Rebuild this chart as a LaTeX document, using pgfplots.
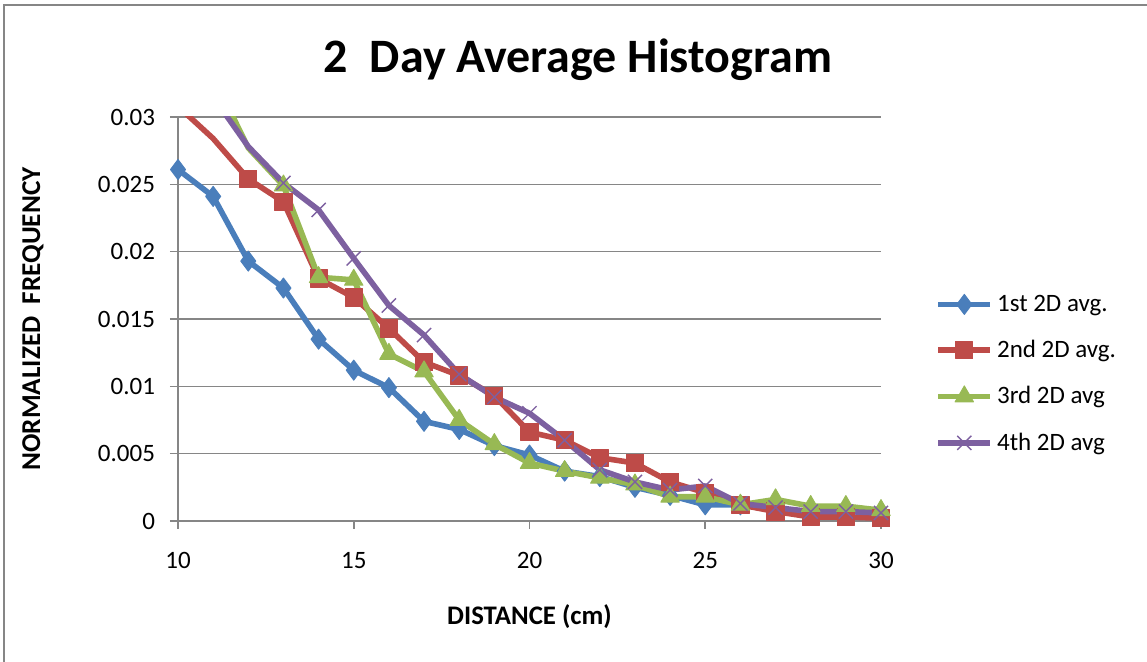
\documentclass[border=0pt]{standalone}
\usepackage{pgfplots}
\pgfplotsset{compat=1.18}
\usepackage{fontspec}
\setmainfont{Carlito}
\definecolor{cblue}{HTML}{4A7EBB}
\definecolor{cred}{HTML}{BE4B48}
\definecolor{cgreen}{HTML}{98B954}
\definecolor{cpurple}{HTML}{7D60A0}
\definecolor{cgrid}{HTML}{868686}
\begin{document}
\begin{tikzpicture}
\path[use as bounding box] (0pt,0pt) rectangle (573.5pt,331pt);
\draw[cgrid, line width=0.8pt] (2pt,0pt) -- (2pt,328.5pt) -- (573.5pt,328.5pt);
\node[font=\fontsize{24}{28}\selectfont\bfseries] at (289pt,301pt) {2\ \ Day Average Histogram};
\begin{axis}[
  at={(89pt,70.5pt)}, anchor=south west,
  scale only axis, width=351.5pt, height=202pt,
  xmin=10, xmax=30, ymin=0, ymax=0.03,
  xtick={10,15,20,25,30},
  ytick={0,0.005,0.01,0.015,0.02,0.025,0.03},
  yticklabels={0,0.005,0.01,0.015,0.02,0.025,0.03},
  scaled y ticks=false,
  /pgf/number format/assume math mode=true,
  axis lines=left,
  axis line style={-, draw=cgrid, line width=0.8pt},
  ymajorgrids,
  grid style={draw=cgrid, line width=0.8pt},
  tick align=outside,
  major tick length=4pt,
  tick style={draw=cgrid, line width=0.8pt},
  ticklabel style={font=\fontsize{12.5}{14}\selectfont},
  xticklabel style={yshift=-8pt},
  yticklabel style={xshift=-4pt},
  xlabel={DISTANCE (cm)},
  ylabel={NORMALIZED\ \ FREQUENCY},
  every axis x label/.style={at={(axis description cs:0.5,-0.2376)}, anchor=center, font=\fontsize{13.4}{15}\selectfont\bfseries},
  every axis y label/.style={at={(axis description cs:-0.2063,0.5)}, rotate=90, anchor=center, font=\fontsize{13.6}{15}\selectfont\bfseries},
  legend style={at={(rel axis cs:1.077,0.364)}, anchor=west, draw=none, fill=none,
    font=\fontsize{12.5}{14}\selectfont, row sep=9pt, inner sep=0pt,
    /tikz/every even column/.append style={column sep=2pt}},
  legend cell align=left,
  legend image code/.code={\draw[mark indices={2}] plot coordinates {(0pt,0pt) (13pt,0pt) (26pt,0pt)};},
  every axis plot/.append style={line width=2.8pt, line join=round},
]
\addplot[cblue, mark=diamond*, mark size=5pt, mark options={fill=cblue, draw=cblue, line width=0.5pt}] coordinates {
(10,0.0261) (11,0.0241) (12,0.0193) (13,0.0173) (14,0.0135) (15,0.0112) (16,0.0099) (17,0.0074) (18,0.0068) (19,0.0056) (20,0.0049) (21,0.0037) (22,0.0033) (23,0.0025) (24,0.0019) (25,0.0012) (26,0.0012) (27,0.0008) (28,0.0007) (29,0.0007) (30,0.0007)};
\addlegendentry{1st 2D avg.}
\addplot[cred, mark=square*, mark size=4.3pt, mark indices={2,...,21}, mark options={fill=cred, draw=cred, line width=0.5pt}] coordinates {
(10,0.0308) (11,0.0284) (12,0.0254) (13,0.0237) (14,0.0180) (15,0.0166) (16,0.0143) (17,0.0118) (18,0.0108) (19,0.0093) (20,0.0066) (21,0.0060) (22,0.0047) (23,0.0043) (24,0.0029) (25,0.0021) (26,0.0012) (27,0.0007) (28,0.0003) (29,0.0003) (30,0.0002)};
\addlegendentry{2nd 2D avg.}
\addplot[cgreen, mark=triangle*, mark size=5.3pt, mark indices={2,...,20}, mark options={fill=cgreen, draw=cgreen, line width=0.5pt}] coordinates {
(11,0.0330) (12,0.0277) (13,0.0249) (14,0.0181) (15,0.0179) (16,0.0124) (17,0.0111) (18,0.0075) (19,0.0057) (20,0.0043) (21,0.0037) (22,0.0032) (23,0.0027) (24,0.0018) (25,0.0018) (26,0.0012) (27,0.0016) (28,0.0011) (29,0.0011) (30,0.0008)};
\addlegendentry{3rd 2D avg}
\addplot[cpurple, mark=x, mark size=5pt, mark indices={2,...,20}, mark options={draw=cpurple, line width=0.7pt}] coordinates {
(11,0.0315) (12,0.0278) (13,0.0251) (14,0.0231) (15,0.0195) (16,0.0160) (17,0.0138) (18,0.0109) (19,0.0092) (20,0.0080) (21,0.0060) (22,0.0038) (23,0.0029) (24,0.0023) (25,0.0026) (26,0.0013) (27,0.0010) (28,0.0007) (29,0.0007) (30,0.0006)};
\addlegendentry{4th 2D avg}
\end{axis}
\end{tikzpicture}
\end{document}
